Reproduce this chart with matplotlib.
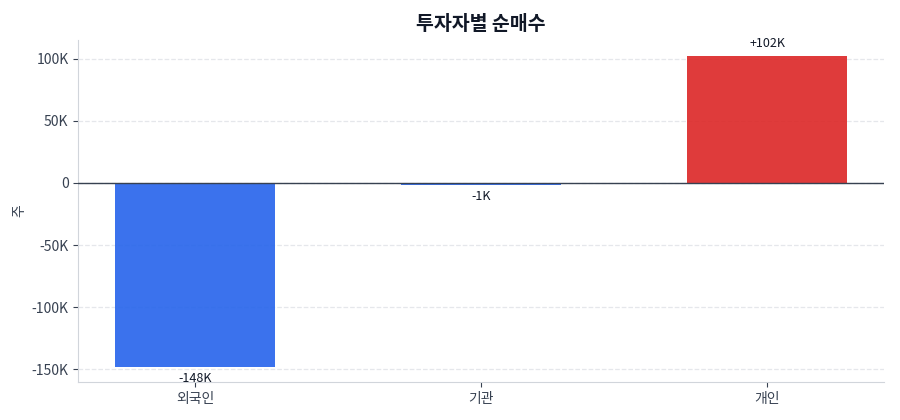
import matplotlib
matplotlib.use("Agg")
import matplotlib.pyplot as plt
from matplotlib.ticker import FuncFormatter

plt.rcParams['font.family'] = ['Noto Sans CJK KR', 'DejaVu Sans']

# data
investors = ['외국인', '기관', '개인']
net_buy = [-148200, -1300, 102400]
labels = ['-148K', '-1K', '+102K']

pos_color = '#DC2626'
neg_color = '#2563EB'
colors = [pos_color if v >= 0 else neg_color for v in net_buy]

fig, ax = plt.subplots(figsize=(9, 4.2), dpi=100)
fig.subplots_adjust(left=0.087, right=0.982, top=0.905, bottom=0.09)

x = list(range(len(investors)))
bars = ax.bar(x, net_buy, width=0.56, color=colors, alpha=0.9,
              linewidth=0, zorder=3)

for b, v, t in zip(bars, net_buy, labels):
    cx = b.get_x() + b.get_width() / 2
    if v >= 0:
        ax.annotate(t, (cx, v), xytext=(0, 4), textcoords='offset points',
                    ha='center', va='bottom', fontsize=9, color='#111827')
    else:
        ax.annotate(t, (cx, v), xytext=(0, -4), textcoords='offset points',
                    ha='center', va='top', fontsize=9, color='#111827')

# zero line on top of the bars
ax.axhline(0, color='#374151', linewidth=1.0, zorder=4)

ax.set_ylim(min(net_buy) * 1.083, max(net_buy) * 1.125)
ax.set_xticks(x)
ax.set_xticklabels(investors, fontsize=10, color='#374151')
ax.yaxis.set_major_formatter(FuncFormatter(
    lambda v, p: '0' if v == 0 else f'{v / 1000:.0f}K'))
ax.tick_params(axis='y', labelsize=10, colors='#374151')
ax.tick_params(axis='x', colors='#374151')

ax.set_ylabel('주', fontsize=10, color='#374151')
ax.set_title('투자자별 순매수', fontsize=14, fontweight='bold',
             color='#111827', pad=7)

ax.grid(axis='y', linestyle='--', color='#e5e7eb', linewidth=0.9, zorder=0)
ax.set_axisbelow(True)
for s in ['top', 'right']:
    ax.spines[s].set_visible(False)
for s in ['left', 'bottom']:
    ax.spines[s].set_color('#d1d5db')

fig.savefig('out.png', dpi=100, facecolor='white')
